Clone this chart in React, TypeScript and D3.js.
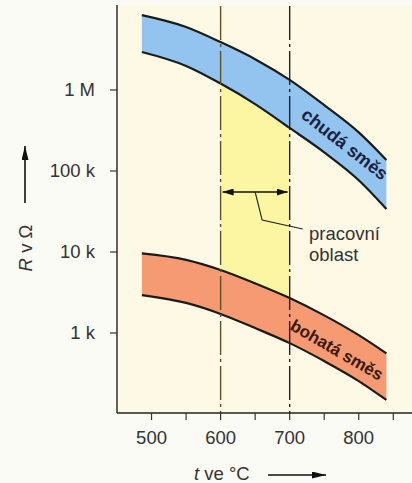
import { useEffect, useRef } from "react";
import * as d3 from "d3";

// temperature points (°C) where the band edges were read
const temps = [486, 550, 600, 650, 700, 750, 800, 840];
// lean mixture (chudá směs), resistance in ohm
const leanUpper = [8.4e6, 6.0e6, 3.9e6, 2.4e6, 1.33e6, 6.5e5, 3.0e5, 1.37e5];
const leanLower = [2.94e6, 1.98e6, 1.2e6, 6.7e5, 3.4e5, 1.7e5, 7.7e4, 3.4e4];
// rich mixture (bohatá směs)
const richUpper = [9.6e3, 8.0e3, 6.0e3, 4.1e3, 2.7e3, 1.65e3, 9.4e2, 5.6e2];
const richLower = [2.94e3, 2.35e3, 1.72e3, 1.15e3, 7.5e2, 4.5e2, 2.55e2, 1.49e2];

const xTicksMajor = [500, 600, 700, 800];
const xTicksMinor = [550, 650, 750, 850];
const yTicks = [1e3, 1e4, 1e5, 1e6];
const yTickLabels = ["1 k", "10 k", "100 k", "1 M"];
const workRange = [600, 700];

export default function App() {
  const ref = useRef<SVGSVGElement | null>(null);

  useEffect(() => {
    if (!ref.current) return;
    const W = 412;
    const H = 483;
    const font = "'Liberation Sans', Arial, sans-serif";

    const svg = d3.select(ref.current);
    svg.selectAll("*").remove();

    const x = d3.scaleLinear().domain([450, 880]).range([117, 414]);
    const y = d3.scaleLog().domain([100, 1.12e7]).range([414, 5]);
    const bottom = 413;

    const defs = svg.append("defs");
    defs.append("clipPath").attr("id", "work")
      .append("rect")
      .attr("x", x(workRange[0]))
      .attr("y", 0)
      .attr("width", x(workRange[1]) - x(workRange[0]))
      .attr("height", H);

    // page + plot background
    svg.append("rect").attr("width", W).attr("height", H).attr("fill", "#fbfbf6");
    svg.append("rect")
      .attr("x", x(450)).attr("y", y(1.12e7))
      .attr("width", W - x(450)).attr("height", bottom - y(1.12e7))
      .attr("fill", "#fdf9e5");

    const rows = temps.map((t, i) => ({
      t, lu: leanUpper[i], ll: leanLower[i], ru: richUpper[i], rl: richLower[i],
    }));
    const curve = d3.curveMonotoneX;

    // working region (yellow) between the bands
    svg.append("path")
      .datum(rows)
      .attr("clip-path", "url(#work)")
      .attr("fill", "#fcf6a2")
      .attr("d", d3.area<any>().x(d => x(d.t)).y0(d => y(d.ru)).y1(d => y(d.ll)).curve(curve));

    // bands
    const band = (lo: string, hi: string, fill: string) => {
      svg.append("path")
        .datum(rows)
        .attr("fill", fill)
        .attr("d", d3.area<any>().x(d => x(d.t)).y0(d => y(d[lo])).y1(d => y(d[hi])).curve(curve));
      [lo, hi].forEach(k => {
        svg.append("path")
          .datum(rows)
          .attr("fill", "none")
          .attr("stroke", "#1b1b1b")
          .attr("stroke-width", 2.2)
          .attr("d", d3.line<any>().x(d => x(d.t)).y(d => y(d[k])).curve(curve));
      });
    };
    band("ll", "lu", "#92c4ef");
    band("rl", "ru", "#f59a72");

    // dash-dot boundary lines
    workRange.forEach((t, i) => {
      svg.append("line")
        .attr("x1", x(t)).attr("x2", x(t))
        .attr("y1", 6).attr("y2", bottom)
        .attr("stroke", i === 0 ? "#5c5326" : "#222")
        .attr("stroke-width", 1.4)
        .attr("stroke-dasharray", "34,4,3,4");
    });

    // axes
    const gx = svg.append("g").attr("transform", `translate(0,${bottom})`);
    gx.append("line").attr("x1", x(450)).attr("x2", W).attr("stroke", "#222").attr("stroke-width", 1.4);
    [...xTicksMajor, ...xTicksMinor].forEach(t => {
      gx.append("line").attr("x1", x(t)).attr("x2", x(t)).attr("y1", 0).attr("y2", 7)
        .attr("stroke", "#333").attr("stroke-width", 1.2);
    });
    xTicksMajor.forEach(t => {
      gx.append("text").attr("x", x(t)).attr("y", 31)
        .attr("text-anchor", "middle").attr("font-family", font).attr("font-size", 18.5)
        .attr("fill", "#333").text(String(t));
    });

    const gy = svg.append("g").attr("transform", `translate(${x(450)},0)`);
    gy.append("line").attr("y1", y(1.12e7)).attr("y2", bottom).attr("stroke", "#222").attr("stroke-width", 1.4);
    yTicks.forEach((v, i) => {
      gy.append("line").attr("x1", -7).attr("x2", 0).attr("y1", y(v)).attr("y2", y(v))
        .attr("stroke", "#333").attr("stroke-width", 1.2);
      gy.append("text").attr("x", -22).attr("y", y(v)).attr("dy", "0.35em")
        .attr("text-anchor", "end").attr("font-family", font).attr("font-size", 18.5)
        .attr("fill", "#333").text(yTickLabels[i]);
    });

    // axis titles with arrows
    defs.append("marker").attr("id", "ah")
      .attr("viewBox", "0 0 11 7").attr("refX", 11).attr("refY", 3.5)
      .attr("markerWidth", 11).attr("markerHeight", 7).attr("markerUnits", "userSpaceOnUse")
      .attr("orient", "auto-start-reverse")
      .append("path").attr("d", "M0,0L11,3.5L0,7Z").attr("fill", "#111");
    defs.append("marker").attr("id", "big")
      .attr("viewBox", "0 0 14 7").attr("refX", 14).attr("refY", 3.5)
      .attr("markerWidth", 14).attr("markerHeight", 7).attr("markerUnits", "userSpaceOnUse")
      .attr("orient", "auto")
      .append("path").attr("d", "M0,0L14,3.5L0,7Z").attr("fill", "#111");

    const yt = svg.append("text")
      .attr("transform", `translate(32,248) rotate(-90)`)
      .attr("text-anchor", "middle").attr("font-family", font).attr("font-size", 18.5).attr("fill", "#333");
    yt.append("tspan").attr("font-style", "italic").text("R");
    yt.append("tspan").text(" v Ω");
    svg.append("line").attr("x1", 25).attr("x2", 25).attr("y1", 203).attr("y2", 146)
      .attr("stroke", "#111").attr("stroke-width", 1.6).attr("marker-end", "url(#big)");

    const xt = svg.append("text").attr("x", 194).attr("y", 480)
      .attr("font-family", font).attr("font-size", 18.5).attr("fill", "#333");
    xt.append("tspan").attr("font-style", "italic").text("t");
    xt.append("tspan").text(" ve °C");
    svg.append("line").attr("x1", 268).attr("x2", 326).attr("y1", 475).attr("y2", 475)
      .attr("stroke", "#111").attr("stroke-width", 1.6).attr("marker-end", "url(#big)");

    // working range annotation
    const ay = 192;
    svg.append("line")
      .attr("x1", x(workRange[0]) + 2).attr("x2", x(workRange[1]) - 2)
      .attr("y1", ay).attr("y2", ay)
      .attr("stroke", "#111").attr("stroke-width", 1.3)
      .attr("marker-start", "url(#ah)").attr("marker-end", "url(#ah)");
    const mid = (x(workRange[0]) + x(workRange[1])) / 2;
    svg.append("path")
      .attr("d", `M${mid},${ay}L${mid + 7},${ay + 28}L${x(workRange[1]) + 13},${ay + 37}`)
      .attr("fill", "none").attr("stroke", "#222").attr("stroke-width", 1.1);
    ["pracovní", "oblast"].forEach((s, i) => {
      svg.append("text").attr("x", 309).attr("y", 240 + i * 21)
        .attr("font-family", font).attr("font-size", 18.5).attr("fill", "#333").text(s);
    });

    // band labels
    svg.append("text")
      .attr("transform", `translate(341,149) rotate(38)`)
      .attr("text-anchor", "middle").attr("font-family", font).attr("font-size", 18)
      .attr("font-weight", "bold").attr("fill", "#1c2142").text("chudá směs");
    svg.append("text")
      .attr("transform", `translate(334,355) rotate(30)`)
      .attr("text-anchor", "middle").attr("font-family", font).attr("font-size", 17)
      .attr("font-weight", "bold").attr("fill", "#3a1810").text("bohatá směs");
  }, []);

  return (
    <svg
      ref={ref}
      width={412}
      height={483}
      style={{ position: "absolute", left: 0, top: 0, display: "block" }}
    />
  );
}
